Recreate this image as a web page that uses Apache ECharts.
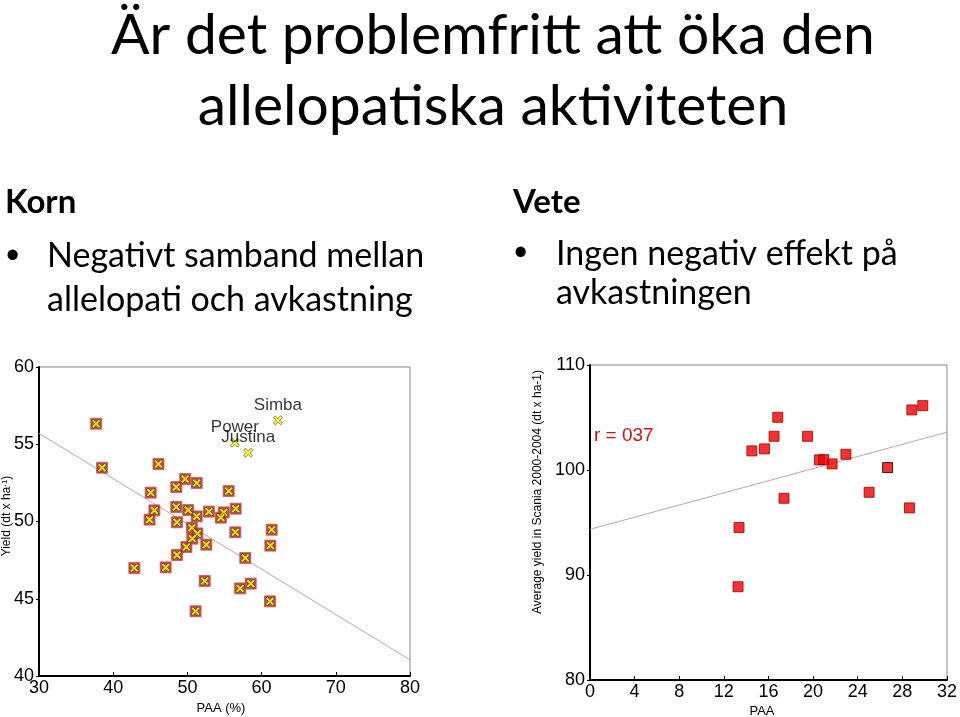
<!DOCTYPE html>
<html><head><meta charset="utf-8">
<script src="https://cdn.jsdelivr.net/npm/echarts@6/dist/echarts.min.js"></script>
<style>html,body{margin:0;padding:0;background:#fff}#c{width:960px;height:717px}</style>
</head><body><div id="c"></div>
<script>
// ---- Slide texts ----
const titleLines = ['Är det problemfritt att öka den', 'allelopatiska aktiviteten'];
const headings = ['Korn', 'Vete'];
const kornBullet = ['Negativt samband mellan', 'allelopati och avkastning'];
const veteBullet = ['Ingen negativ effekt på', 'avkastningen'];

// ---- Left chart (Korn) ----
const kornX = [37.7, 38.5, 46.1, 49.7, 48.5, 51.25, 45.05, 55.56, 48.5, 45.55, 44.9, 50.1, 51.25, 52.9, 54.9, 54.5, 56.5, 48.6, 50.6, 51.34, 50.66, 49.86, 52.55, 48.6, 56.46, 61.36, 61.18, 57.8, 42.85, 47.07, 52.33, 57.1, 58.53, 61.13, 51.1];
const kornY = [56.33, 53.48, 53.72, 52.75, 52.23, 52.49, 51.87, 51.97, 50.94, 50.72, 50.12, 50.74, 50.33, 50.64, 50.59, 50.25, 50.83, 49.95, 49.6, 49.23, 48.89, 48.35, 48.5, 47.83, 49.3, 49.47, 48.44, 47.64, 46.99, 47.03, 46.15, 45.67, 45.98, 44.83, 44.19];
const namedVarieties = ['Simba', 'Power', 'Justina'];
const namedX = [62.2, 56.4, 58.2];
const namedY = [56.55, 55.1, 54.45];
const kornFitX = [30, 80];
const kornFitY = [55.7, 41.05];
const kornXTicks = [30, 40, 50, 60, 70, 80];
const kornYTicks = [40, 45, 50, 55, 60];

// ---- Right chart (Vete) ----
const veteX = [13.36, 13.27, 14.51, 15.64, 16.5, 16.83, 17.39, 19.5, 20.57, 20.96, 21.7, 22.94, 25.02, 26.68, 28.64, 28.85, 29.83];
const veteY = [94.52, 88.88, 101.82, 102.01, 103.21, 105.02, 97.31, 103.21, 100.96, 100.99, 100.58, 101.5, 97.88, 100.23, 96.39, 105.72, 106.13];
const veteHighlight = 13;
const veteFitX = [0, 32];
const veteFitY = [94.35, 103.6];
const veteXTicks = [0, 4, 8, 12, 16, 20, 24, 28, 32];
const veteYTicks = [80, 90, 100, 110];
const rText = 'r = 037';

const AF = 'Liberation Sans';
const crossPath = 'path://M0,2L2,0L5,3L8,0L10,2L7,5L10,8L8,10L5,7L2,10L0,8L3,5Z';

function zip(xs, ys) { return xs.map((x, i) => [x, ys[i]]); }
function axisX(ticks, gi) {
  return {
    type: 'value', gridIndex: gi, min: ticks[0], max: ticks[ticks.length - 1],
    interval: ticks[1] - ticks[0],
    axisLine: { show: true, onZero: false, lineStyle: { color: '#000', width: 2 } },
    axisTick: { show: true, inside: true, length: 4, lineStyle: { color: '#000', width: 1 } },
    axisLabel: { color: '#000', fontFamily: AF, fontSize: 18, margin: 3 },
    splitLine: { show: false }
  };
}
function axisY(ticks, gi) {
  return {
    type: 'value', gridIndex: gi, min: ticks[0], max: ticks[ticks.length - 1],
    interval: ticks[1] - ticks[0],
    axisLine: { show: true, onZero: false, lineStyle: { color: '#000', width: 2 } },
    axisTick: { show: true, inside: false, length: 3, lineStyle: { color: '#000', width: 1 } },
    axisLabel: { color: '#000', fontFamily: AF, fontSize: 18, margin: 5 },
    splitLine: { show: false }
  };
}
function slideText(x, y, text, font, align) {
  return { type: 'text', x: x, y: y, style: { text: text, font: font, fill: '#000', align: align || 'left', verticalAlign: 'top' } };
}

const chart = echarts.init(document.getElementById('c'), null, { renderer: 'canvas' });
const graphics = [
  slideText(493, 7, titleLines[0], '57px Lato', 'center'),
  slideText(493, 78, titleLines[1], '57px Lato', 'center'),
  slideText(5, 186, headings[0], 'bold 33px Lato'),
  slideText(513, 186, headings[1], 'bold 33px Lato'),
  slideText(6, 239, '•', '38px "Liberation Sans"'),
  slideText(47, 239, kornBullet[0], '34px Lato'),
  slideText(47, 283, kornBullet[1], '34px Lato'),
  slideText(514, 236, '•', '38px "Liberation Sans"'),
  slideText(556, 237, veteBullet[0], '34px Lato'),
  slideText(556, 276, veteBullet[1], '34px Lato'),
  { type: 'text', x: 7, y: 516, rotation: Math.PI / 2, style: { text: '{n|Yield (dt x ha}{s|-1}{n|)}', align: 'center', verticalAlign: 'middle', rich: { n: { fontFamily: AF, fontSize: 12, fill: '#000' }, s: { fontFamily: AF, fontSize: 8, fill: '#000', verticalAlign: 'top', padding: [0, 0, 5, 0] } } } },
  { type: 'text', x: 538, y: 492, rotation: Math.PI / 2, style: { text: 'Average yield in Scania 2000-2004 (dt x ha-1)', fontFamily: AF, fontSize: 12, fill: '#000', align: 'center', verticalAlign: 'middle' } },
  { type: 'text', x: 221, y: 708, style: { text: 'PAA (%)', fontFamily: AF, fontSize: 13, fill: '#000', align: 'center', verticalAlign: 'middle' } },
  { type: 'text', x: 762, y: 711, style: { text: 'PAA', fontFamily: AF, fontSize: 13, fill: '#000', align: 'center', verticalAlign: 'middle' } },
  { type: 'text', x: 594, y: 436, style: { text: rText, fontFamily: AF, fontSize: 19, fill: '#cc1111', align: 'left', verticalAlign: 'middle' } }
];

chart.setOption({
  animation: false,
  backgroundColor: '#fff',
  graphic: graphics,
  grid: [
    { left: 39, top: 367, width: 371, height: 309, show: true, borderColor: '#888', borderWidth: 1, backgroundColor: 'transparent' },
    { left: 590, top: 365, width: 359, height: 315, show: true, borderColor: '#888', borderWidth: 1, backgroundColor: 'transparent' }
  ],
  xAxis: [axisX(kornXTicks, 0), axisX(veteXTicks, 1)],
  yAxis: [axisY(kornYTicks, 0), axisY(veteYTicks, 1)],
  series: [
    { type: 'line', xAxisIndex: 0, yAxisIndex: 0, data: zip(kornFitX, kornFitY), symbol: 'none', lineStyle: { color: '#c9a0a8', width: 1 }, z: 1, silent: true },
    { type: 'scatter', xAxisIndex: 0, yAxisIndex: 0, data: zip(kornX, kornY), symbol: 'rect', symbolSize: 11, itemStyle: { color: '#a02420', borderColor: '#d85050', borderWidth: 1 }, z: 2, silent: true },
    { type: 'scatter', xAxisIndex: 0, yAxisIndex: 0, data: zip(kornX, kornY), symbol: crossPath, symbolSize: 9, itemStyle: { color: '#ffff00', borderColor: '#222', borderWidth: 0.7 }, z: 3, silent: true },
    { type: 'scatter', xAxisIndex: 0, yAxisIndex: 0, data: namedX.map((x, i) => ({ value: [x, namedY[i]], name: namedVarieties[i] })), symbol: crossPath, symbolSize: 9, itemStyle: { color: '#ffff00', borderColor: '#222', borderWidth: 0.7 }, z: 3, silent: true,
      label: { show: true, position: 'top', distance: 2, formatter: p => p.name, color: '#000', fontFamily: AF, fontSize: 17 } },
    { type: 'line', xAxisIndex: 1, yAxisIndex: 1, data: zip(veteFitX, veteFitY), symbol: 'none', lineStyle: { color: '#c9a0a8', width: 1 }, z: 1, silent: true },
    { type: 'scatter', xAxisIndex: 1, yAxisIndex: 1, data: veteX.map((x, i) => i === veteHighlight ? { value: [x, veteY[i]], itemStyle: { borderColor: '#000' } } : [x, veteY[i]]), symbol: 'rect', symbolSize: 10, itemStyle: { color: '#ee0000', borderColor: '#a00000', borderWidth: 1 }, z: 2, silent: true }
  ]
});
</script></body></html>
